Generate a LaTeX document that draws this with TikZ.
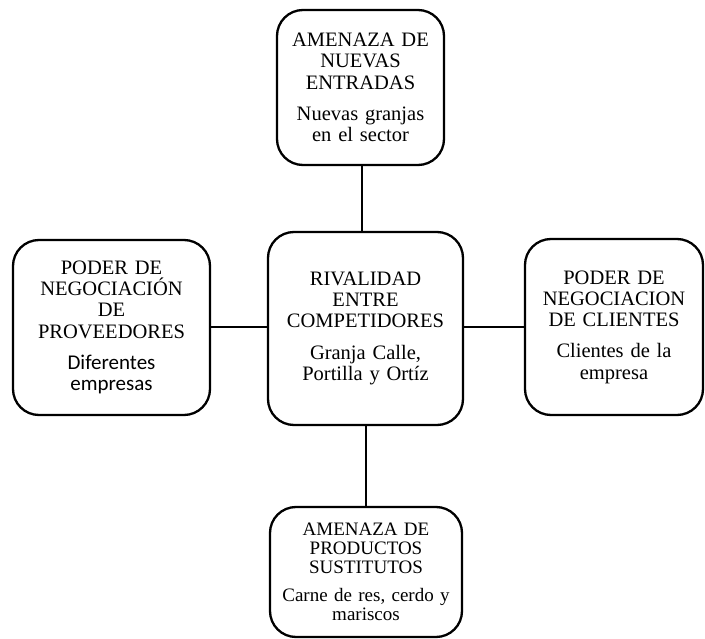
\documentclass[tikz,border=0pt]{standalone}
\usepackage{fontspec}
\setmainfont{Liberation Serif}
\newfontfamily\calib{Carlito}
\begin{document}
\begin{tikzpicture}[x=1pt,y=1pt,
  box/.style={draw=black, line width=2.3pt, rounded corners=26pt, align=center, inner sep=0pt},
  big/.style={font=\fontsize{20.5}{21.2}\selectfont},
  small/.style={font=\fontsize{19}{19}\selectfont},
  conn/.style={line width=2pt}]
\useasboundingbox (0,0) rectangle (705,-639);
\node[box,big,minimum width=167,minimum height=155,text width=160] (top) at (360.5,-87.5)
  {AMENAZA DE\\NUEVAS\\ENTRADAS\\[10pt]Nuevas granjas\\en el sector};
\node[box,big,minimum width=195,minimum height=193,text width=185] (mid) at (365.5,-328.5)
  {RIVALIDAD\\ENTRE\\COMPETIDORES\\[11pt]Granja Calle,\\Portilla y Ortíz};
\node[box,big,minimum width=197,minimum height=175,text width=190] (left) at (111.5,-327.5)
  {PODER DE\\NEGOCIACIÓN\\DE\\PROVEEDORES\\[10pt]{\calib\fontsize{21}{21}\selectfont Diferentes}\\{\calib\fontsize{21}{21}\selectfont empresas}};
\node[box,big,minimum width=178,minimum height=176,text width=172] (right) at (614,-327)
  {PODER DE\\NEGOCIACION\\DE CLIENTES\\[10pt]Clientes de la\\empresa};
\node[box,small,minimum width=192,minimum height=130,text width=185] (bot) at (366,-572)
  {AMENAZA DE\\PRODUCTOS\\SUSTITUTOS\\[9pt]Carne de res, cerdo y\\mariscos};
\draw[conn] ([xshift=1.5pt]top.south) -- ([xshift=1.5pt]top.south |- mid.north);
\draw[conn] (left.east) -- (left.east -| mid.west);
\draw[conn] (right.west) -- (right.west -| mid.east);
\draw[conn] (mid.south) -- (mid.south |- bot.north);
\end{tikzpicture}
\end{document}
